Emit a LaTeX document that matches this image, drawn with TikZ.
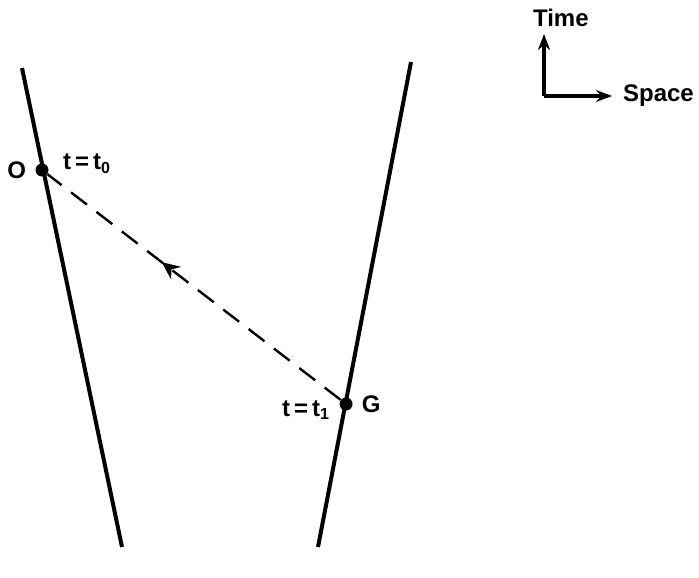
\documentclass[tikz,border=0pt]{standalone}
\usepackage{fontspec}
\setmainfont{Liberation Sans}
\usetikzlibrary{arrows.meta, positioning, decorations.markings}

\begin{document}
\begin{tikzpicture}[
    x=0.5pt, y=-0.5pt,
    worldline/.style={line width=2pt, black},
    event/.style={circle, fill=black, inner sep=0pt, minimum size=6.5pt},
    lbl/.style={font=\fontsize{12}{14}\selectfont\bfseries},
    signal/.style={line width=1.2pt, dash pattern=on 10pt off 6pt,
        postaction={decorate, decoration={markings,
        mark=at position 0.61 with {\arrow[solid]{Stealth[length=9pt, width=8pt, inset=3pt]}}}}},
    axisarrow/.style={-{Stealth[length=8pt, width=6pt]}, line width=1.6pt},
]
\useasboundingbox (0,0) rectangle (699,577);

% world lines of the two observers
\coordinate (leftTop) at (22,68);
\coordinate (leftBot) at (122,547);
\coordinate (rightTop) at (411,62);
\coordinate (rightBot) at (318,547);
\draw[worldline] (leftTop) -- (leftBot);
\draw[worldline] (rightTop) -- (rightBot);

% events
\node[event] (O) at (42,170) {};
\node[event] (G) at (346,404) {};
\node[lbl, left=1pt of O] (Olbl) {O};
\node[lbl, anchor=west] (t0) at (56,164) {t\,=\,t$_{\mathbf 0}$};
\node[lbl, right=1pt of G] (Glbl) {G};
\node[lbl, anchor=east] (t1) at (337,410) {t\,=\,t$_{\mathbf 1}$};

% signal from G back to O
\draw[signal] (G) -- (O);

% axes key
\coordinate (origin) at (544,96);
\coordinate (timeEnd) at (544,34);
\coordinate (spaceEnd) at (612,96);
\draw[axisarrow] (origin) -- (timeEnd);
\draw[axisarrow] (origin) -- (spaceEnd);
\node[lbl, anchor=south west] (timelbl) at (526,34) {Time};
\node[lbl, right=2pt of spaceEnd] (spacelbl) {Space};

\end{tikzpicture}
\end{document}
